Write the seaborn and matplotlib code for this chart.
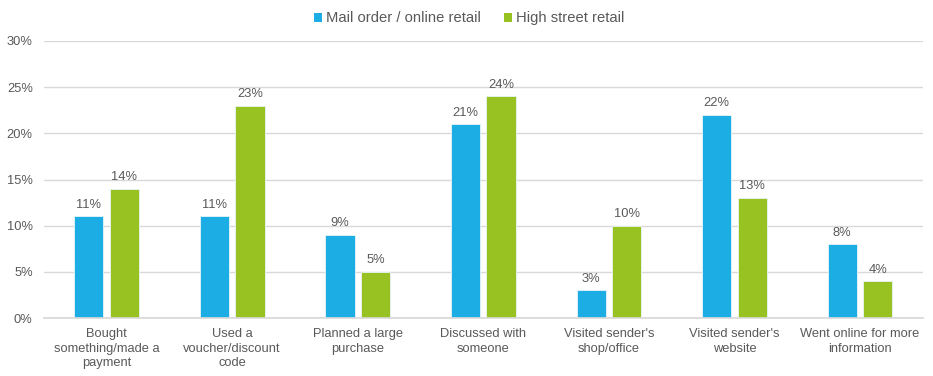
import matplotlib
matplotlib.use("Agg")
import matplotlib.pyplot as plt
import seaborn as sns
import pandas as pd
from matplotlib.ticker import FuncFormatter, MultipleLocator
from matplotlib.patches import Patch

categories = [
    "Bought\nsomething/made a\npayment",
    "Used a\nvoucher/discount\ncode",
    "Planned a large\npurchase",
    "Discussed with\nsomeone",
    "Visited sender's\nshop/office",
    "Visited sender's\nwebsite",
    "Went online for more\ninformation",
]
series_names = ["Mail order / online retail", "High street retail"]
mail_order = [11, 11, 9, 21, 3, 22, 8]
high_street = [14, 23, 5, 24, 10, 13, 4]
colors = ["#1CADE4", "#98C222"]

rows = []
for c, a, b in zip(categories, mail_order, high_street):
    rows.append({"cat": c, "series": series_names[0], "val": a})
    rows.append({"cat": c, "series": series_names[1], "val": b})
df = pd.DataFrame(rows)

sns.set_theme(style="white")
plt.rcParams["font.family"] = ["Liberation Sans", "DejaVu Sans"]
txt = "#595959"

fig = plt.figure(figsize=(9.33, 3.76), dpi=100)
ax = fig.add_axes([0.047, 0.154, 0.942, 0.737])

sns.barplot(data=df, x="cat", y="val", hue="series", palette=colors,
            width=0.566, gap=0.18, ax=ax, legend=False,
            edgecolor="#e8f4f8", linewidth=0.6, saturation=1)

for cont in ax.containers:
    ax.bar_label(cont, labels=[f"{int(round(v.get_height()))}%" for v in cont],
                 padding=4, fontsize=9.3, color=txt)

ax.set_ylim(0, 30)
ax.set_xlim(-0.5, 6.5)
ax.yaxis.set_major_locator(MultipleLocator(5))
ax.yaxis.set_major_formatter(FuncFormatter(lambda v, p: f"{int(v)}%"))
ax.grid(axis="y", color="#D9D9D9", linewidth=1)
ax.set_axisbelow(True)
for s in ["top", "right", "left"]:
    ax.spines[s].set_visible(False)
ax.spines["bottom"].set_color("#D9D9D9")
ax.tick_params(axis="both", length=0, labelsize=9.3, colors=txt)
ax.tick_params(axis="x", pad=7)
ax.tick_params(axis="y", pad=8)
for lab in ax.get_xticklabels():
    lab.set_linespacing(1.3)
ax.set_xlabel("")
ax.set_ylabel("")

handles = [Patch(facecolor=c, edgecolor="none") for c in colors]
fig.legend(handles, series_names, loc="upper center", bbox_to_anchor=(0.503, 1.005),
           ncol=2, frameon=False, fontsize=10.6, handlelength=0.55, handleheight=0.55,
           handletextpad=0.25, columnspacing=1.6, labelcolor=txt)

fig.savefig("out.png", dpi=100)
